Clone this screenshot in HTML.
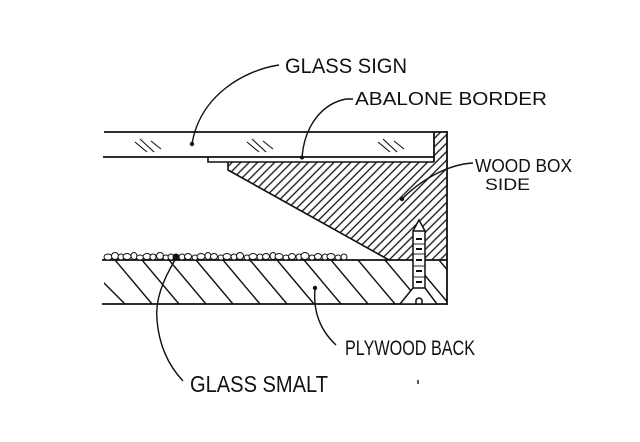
<!DOCTYPE html>
<html>
<head>
<meta charset="utf-8">
<style>
  html,body{margin:0;padding:0;background:#fff;}
  svg{display:block;}
  text{font-family:"Liberation Sans", sans-serif;fill:#111;}
</style>
</head>
<body>
<svg width="640" height="442" viewBox="0 0 640 442" xmlns="http://www.w3.org/2000/svg">
  <defs>
    <pattern id="hb" patternUnits="userSpaceOnUse" width="6" height="6" patternTransform="rotate(45)">
      <line x1="3" y1="-1" x2="3" y2="7" stroke="#111" stroke-width="1.3"/>
    </pattern>
    <clipPath id="ply">
      <rect x="104" y="260" width="343" height="44"/>
    </clipPath>
  </defs>
  <rect width="640" height="442" fill="#fff"/>

  <!-- wood box side hatch -->
  <polygon points="228,162 434,162 434,132 447,132 447,260 389,260 228,170" fill="url(#hb)"/>
  <!-- diagonal edge of box side -->
  <polyline points="228,162 228,170 389,260" fill="none" stroke="#111" stroke-width="1.6"/>

  <!-- plywood hatch -->
  <g clip-path="url(#ply)" stroke="#111" stroke-width="1.4">
    <line x1="61" y1="260" x2="98" y2="304"/>
    <line x1="81" y1="260" x2="125" y2="304"/>
    <line x1="115" y1="260" x2="152" y2="304"/>
    <line x1="142" y1="260" x2="179" y2="304"/>
    <line x1="169" y1="260" x2="206" y2="304"/>
    <line x1="196" y1="260" x2="233" y2="304"/>
    <line x1="223" y1="260" x2="260" y2="304"/>
    <line x1="250" y1="260" x2="287" y2="304"/>
    <line x1="277" y1="260" x2="314" y2="304"/>
    <line x1="304" y1="260" x2="341" y2="304"/>
    <line x1="331" y1="260" x2="368" y2="304"/>
    <line x1="358" y1="260" x2="395" y2="304"/>
    <line x1="385" y1="260" x2="422" y2="304"/>
    <line x1="412" y1="260" x2="449" y2="304"/>
    <line x1="439" y1="260" x2="476" y2="304"/>
  </g>

  <!-- glass sign -->
  <line x1="104" y1="132" x2="447" y2="132" stroke="#111" stroke-width="1.8"/>
  <line x1="103" y1="157" x2="434" y2="157" stroke="#111" stroke-width="1.8"/>
  <line x1="434" y1="132" x2="434" y2="162" stroke="#111" stroke-width="1.8"/>
  <!-- abalone strip -->
  <polyline points="208,157 208,162 434,162" fill="none" stroke="#111" stroke-width="1.6"/>

  <!-- reflection marks -->
  <g stroke="#111" stroke-width="1.1">
    <line x1="135" y1="142" x2="147" y2="152"/>
    <line x1="140" y1="139" x2="154" y2="152"/>
    <line x1="151" y1="141" x2="161" y2="149"/>
    <line x1="247" y1="142" x2="259" y2="152"/>
    <line x1="252" y1="139" x2="266" y2="152"/>
    <line x1="263" y1="141" x2="273" y2="149"/>
    <line x1="378" y1="142" x2="390" y2="152"/>
    <line x1="383" y1="139" x2="397" y2="152"/>
    <line x1="394" y1="141" x2="404" y2="149"/>
  </g>

  <!-- box right edge & plywood lines -->
  <line x1="447" y1="131" x2="447" y2="305" stroke="#111" stroke-width="1.8"/>
  <line x1="102" y1="260" x2="447" y2="260" stroke="#111" stroke-width="1.8"/>
  <line x1="102" y1="304" x2="447" y2="304" stroke="#111" stroke-width="1.8"/>

  <!-- screw -->
  <g stroke="#111" stroke-width="1.5" fill="#fff">
    <path d="M400,304 L413,288 L413,231 L419,220 L425,231 L425,288 L437,304 Z"/>
    <line x1="413" y1="288" x2="425" y2="288"/>
    <line x1="413" y1="231" x2="425" y2="231"/>
    <path d="M416,304 L416,300 Q419,296 422,300 L422,304" fill="none"/>
  </g>
  <g stroke="#111" stroke-width="2">
    <line x1="416" y1="239" x2="422" y2="239"/>
    <line x1="416" y1="249" x2="422" y2="249"/>
    <line x1="416" y1="260" x2="422" y2="260"/>
    <line x1="416" y1="271" x2="422" y2="271"/>
    <line x1="416" y1="282" x2="422" y2="282"/>
  </g>
  <g stroke="#111" stroke-width="0.9">
    <line x1="413" y1="244" x2="425" y2="244"/>
    <line x1="413" y1="254" x2="425" y2="254"/>
    <line x1="413" y1="266" x2="425" y2="266"/>
    <line x1="413" y1="277" x2="425" y2="277"/>
  </g>

  <!-- glass smalt pebbles -->
  <g fill="#fff" stroke="#111" stroke-width="1">
    <ellipse cx="108" cy="257" rx="4" ry="3"/>
    <ellipse cx="115" cy="256" rx="3.5" ry="3.5"/>
    <ellipse cx="121" cy="257" rx="3" ry="3"/>
    <ellipse cx="127" cy="256.5" rx="4" ry="3"/>
    <ellipse cx="134" cy="256" rx="3" ry="3.5"/>
    <ellipse cx="140" cy="257.5" rx="3.5" ry="2.5"/>
    <ellipse cx="147" cy="256.5" rx="4" ry="3"/>
    <ellipse cx="153" cy="257" rx="3" ry="3"/>
    <ellipse cx="160" cy="256" rx="3.5" ry="3.5"/>
    <ellipse cx="166" cy="257.5" rx="3" ry="2.5"/>
    <ellipse cx="171" cy="257" rx="3" ry="3"/>
    <ellipse cx="182" cy="257" rx="3" ry="3"/>
    <ellipse cx="188" cy="256.5" rx="3.5" ry="3"/>
    <ellipse cx="195" cy="257.5" rx="3" ry="2.5"/>
    <ellipse cx="201" cy="256.5" rx="4" ry="3"/>
    <ellipse cx="208" cy="256" rx="3" ry="3.5"/>
    <ellipse cx="214" cy="256.5" rx="3.5" ry="3"/>
    <ellipse cx="221" cy="257.5" rx="3" ry="2.5"/>
    <ellipse cx="227" cy="256.5" rx="4" ry="3"/>
    <ellipse cx="234" cy="257" rx="3" ry="3"/>
    <ellipse cx="240" cy="256" rx="3.5" ry="3.5"/>
    <ellipse cx="247" cy="257.5" rx="3" ry="2.5"/>
    <ellipse cx="253" cy="256.5" rx="4" ry="3"/>
    <ellipse cx="260" cy="257" rx="3" ry="3"/>
    <ellipse cx="266" cy="256.5" rx="3.5" ry="3"/>
    <ellipse cx="273" cy="256" rx="3" ry="3.5"/>
    <ellipse cx="279" cy="256.5" rx="4" ry="3"/>
    <ellipse cx="286" cy="257.5" rx="3" ry="2.5"/>
    <ellipse cx="292" cy="256.5" rx="3.5" ry="3"/>
    <ellipse cx="299" cy="257" rx="3" ry="3"/>
    <ellipse cx="305" cy="256" rx="4" ry="3.5"/>
    <ellipse cx="312" cy="257.5" rx="3" ry="2.5"/>
    <ellipse cx="318" cy="256.5" rx="3.5" ry="3"/>
    <ellipse cx="325" cy="257" rx="3" ry="3"/>
    <ellipse cx="331" cy="256.5" rx="4" ry="3"/>
    <ellipse cx="338" cy="257.5" rx="3" ry="2.5"/>
    <ellipse cx="344" cy="257" rx="3" ry="3"/>
  </g>

  <!-- leader lines -->
  <g fill="none" stroke="#111" stroke-width="1.4">
    <path d="M279,65 C245,70 200,95 192,144"/>
    <path d="M353,99 L346,99 C325,103 305,122 302,157"/>
    <path d="M473,163 C452,164 425,176 402,199"/>
    <path d="M315,289 C313,312 320,330 336,345"/>
    <path d="M175,260 C163,280 155,300 157,320 C159,345 168,365 183,381"/>
  </g>
  <g fill="#111">
    <circle cx="192" cy="144" r="2.2"/>
    <circle cx="302" cy="157.5" r="2"/>
    <circle cx="402" cy="199" r="2.2"/>
    <circle cx="315" cy="288" r="2.2"/>
    <circle cx="176" cy="257" r="3.5"/>
  </g>

  <!-- small tick -->
  <line x1="418" y1="380" x2="418" y2="384" stroke="#111" stroke-width="1.4"/>

  <!-- labels -->
  <text x="285" y="73" font-size="21" textLength="122" lengthAdjust="spacingAndGlyphs">GLASS SIGN</text>
  <text x="355" y="105" font-size="18" textLength="192" lengthAdjust="spacingAndGlyphs">ABALONE BORDER</text>
  <text x="475" y="172" font-size="18" textLength="97" lengthAdjust="spacingAndGlyphs">WOOD BOX</text>
  <text x="485" y="190" font-size="17" textLength="45" lengthAdjust="spacingAndGlyphs">SIDE</text>
  <text x="345" y="355" font-size="21" textLength="130" lengthAdjust="spacingAndGlyphs">PLYWOOD BACK</text>
  <text x="190" y="392" font-size="23" textLength="138" lengthAdjust="spacingAndGlyphs">GLASS SMALT</text>
</svg>
</body>
</html>
